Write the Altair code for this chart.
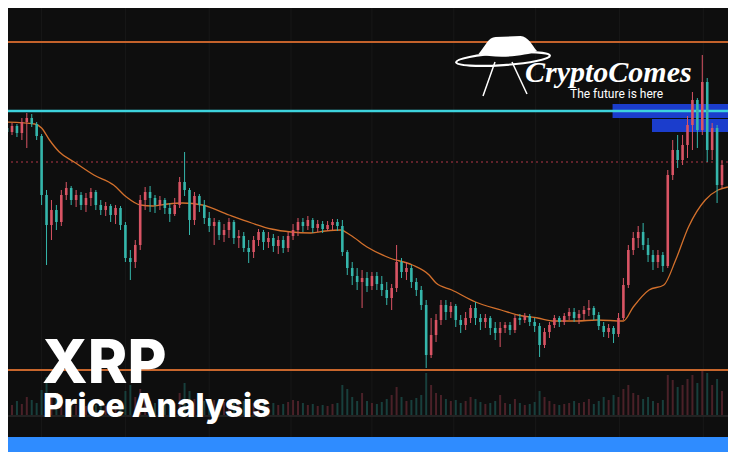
import altair as alt
import pandas as pd

# ---------------- data (XRP candles, price in USD) ----------------
opens = [0.372, 0.368, 0.374, 0.367, 0.378, 0.382, 0.376, 0.364, 0.305, 0.275,
         0.290, 0.278, 0.305, 0.312, 0.300, 0.305, 0.295, 0.302, 0.308, 0.295,
         0.290, 0.294, 0.285, 0.292, 0.275, 0.242, 0.238, 0.255, 0.300, 0.308,
         0.302, 0.295, 0.300, 0.292, 0.286, 0.295, 0.318, 0.310, 0.280, 0.304,
         0.295, 0.282, 0.274, 0.278, 0.265, 0.270, 0.278, 0.262, 0.264, 0.252,
         0.248, 0.260, 0.268, 0.258, 0.262, 0.254, 0.260, 0.252, 0.264, 0.270,
         0.278, 0.274, 0.280, 0.272, 0.276, 0.271, 0.275, 0.278, 0.274, 0.248,
         0.232, 0.224, 0.218, 0.222, 0.214, 0.224, 0.216, 0.210, 0.202, 0.212,
         0.238, 0.228, 0.232, 0.218, 0.210, 0.195, 0.145, 0.165, 0.180, 0.195,
         0.188, 0.194, 0.180, 0.175, 0.182, 0.192, 0.182, 0.178, 0.182, 0.172,
         0.167, 0.172, 0.175, 0.170, 0.182, 0.180, 0.184, 0.178, 0.174, 0.155,
         0.168, 0.175, 0.182, 0.178, 0.184, 0.188, 0.182, 0.186, 0.190, 0.192,
         0.185, 0.174, 0.168, 0.172, 0.166, 0.182, 0.215, 0.250, 0.262, 0.268,
         0.255, 0.245, 0.238, 0.245, 0.234, 0.325, 0.350, 0.340, 0.355, 0.375,
         0.400, 0.370, 0.418, 0.350, 0.372, 0.315]
highs = [0.378, 0.377, 0.376, 0.382, 0.387, 0.386, 0.378, 0.366, 0.310, 0.300,
         0.295, 0.310, 0.318, 0.314, 0.310, 0.308, 0.307, 0.312, 0.310, 0.300,
         0.298, 0.296, 0.295, 0.294, 0.278, 0.250, 0.260, 0.305, 0.313, 0.314,
         0.305, 0.304, 0.302, 0.297, 0.302, 0.323, 0.348, 0.312, 0.308, 0.306,
         0.300, 0.288, 0.282, 0.280, 0.276, 0.282, 0.280, 0.270, 0.268, 0.260,
         0.264, 0.271, 0.270, 0.268, 0.266, 0.264, 0.264, 0.268, 0.276, 0.282,
         0.282, 0.284, 0.282, 0.280, 0.279, 0.279, 0.281, 0.281, 0.280, 0.250,
         0.238, 0.232, 0.230, 0.228, 0.228, 0.228, 0.224, 0.218, 0.216, 0.255,
         0.242, 0.238, 0.235, 0.222, 0.214, 0.200, 0.182, 0.186, 0.200, 0.200,
         0.198, 0.196, 0.185, 0.188, 0.195, 0.198, 0.186, 0.186, 0.184, 0.178,
         0.178, 0.178, 0.178, 0.185, 0.186, 0.187, 0.186, 0.182, 0.177, 0.172,
         0.178, 0.185, 0.184, 0.187, 0.192, 0.192, 0.190, 0.194, 0.200, 0.194,
         0.188, 0.178, 0.176, 0.174, 0.187, 0.222, 0.255, 0.268, 0.274, 0.277,
         0.262, 0.250, 0.250, 0.248, 0.330, 0.360, 0.365, 0.365, 0.384, 0.408,
         0.402, 0.445, 0.422, 0.377, 0.375, 0.340]
lows = [0.364, 0.365, 0.363, 0.360, 0.352, 0.373, 0.360, 0.295, 0.235, 0.260,
        0.270, 0.274, 0.300, 0.295, 0.293, 0.290, 0.288, 0.294, 0.290, 0.285,
        0.284, 0.278, 0.276, 0.270, 0.238, 0.220, 0.232, 0.250, 0.290, 0.288,
        0.287, 0.290, 0.286, 0.278, 0.284, 0.292, 0.304, 0.265, 0.275, 0.288,
        0.276, 0.268, 0.255, 0.260, 0.258, 0.262, 0.256, 0.252, 0.248, 0.237,
        0.242, 0.254, 0.250, 0.252, 0.248, 0.246, 0.247, 0.248, 0.260, 0.264,
        0.268, 0.270, 0.267, 0.268, 0.267, 0.269, 0.270, 0.269, 0.244, 0.225,
        0.215, 0.210, 0.192, 0.208, 0.210, 0.210, 0.204, 0.195, 0.190, 0.208,
        0.222, 0.220, 0.212, 0.204, 0.190, 0.132, 0.142, 0.158, 0.175, 0.180,
        0.182, 0.173, 0.167, 0.170, 0.177, 0.175, 0.170, 0.172, 0.165, 0.160,
        0.153, 0.167, 0.165, 0.167, 0.175, 0.177, 0.174, 0.168, 0.143, 0.152,
        0.162, 0.172, 0.173, 0.175, 0.180, 0.178, 0.176, 0.180, 0.184, 0.180,
        0.170, 0.163, 0.162, 0.157, 0.163, 0.180, 0.212, 0.245, 0.252, 0.250,
        0.238, 0.230, 0.232, 0.228, 0.232, 0.320, 0.332, 0.335, 0.342, 0.350,
        0.352, 0.365, 0.338, 0.340, 0.297, 0.312]
closes = [0.368, 0.374, 0.367, 0.378, 0.382, 0.376, 0.364, 0.305, 0.275, 0.290,
          0.278, 0.305, 0.312, 0.300, 0.305, 0.295, 0.302, 0.308, 0.295, 0.290,
          0.294, 0.285, 0.292, 0.275, 0.242, 0.238, 0.255, 0.300, 0.308, 0.302,
          0.295, 0.300, 0.292, 0.286, 0.295, 0.318, 0.310, 0.280, 0.304, 0.295,
          0.282, 0.274, 0.278, 0.265, 0.270, 0.278, 0.262, 0.264, 0.252, 0.248,
          0.260, 0.268, 0.258, 0.262, 0.254, 0.260, 0.252, 0.264, 0.270, 0.278,
          0.274, 0.280, 0.272, 0.276, 0.271, 0.275, 0.278, 0.274, 0.248, 0.232,
          0.224, 0.218, 0.222, 0.214, 0.224, 0.216, 0.210, 0.202, 0.212, 0.238,
          0.228, 0.232, 0.218, 0.210, 0.195, 0.145, 0.165, 0.180, 0.195, 0.188,
          0.194, 0.180, 0.175, 0.182, 0.192, 0.182, 0.178, 0.182, 0.172, 0.167,
          0.172, 0.175, 0.170, 0.182, 0.180, 0.184, 0.178, 0.174, 0.155, 0.168,
          0.175, 0.182, 0.178, 0.184, 0.188, 0.182, 0.186, 0.190, 0.192, 0.185,
          0.174, 0.168, 0.172, 0.166, 0.182, 0.215, 0.250, 0.262, 0.268, 0.255,
          0.245, 0.238, 0.245, 0.234, 0.325, 0.350, 0.340, 0.355, 0.375, 0.400,
          0.370, 0.418, 0.350, 0.372, 0.315, 0.335]
volumes = [12, 10, 14, 11, 18, 15, 12, 25, 38, 22,
           16, 20, 14, 12, 10, 11, 9, 12, 10, 11,
           9, 13, 10, 15, 24, 30, 18, 26, 20, 14,
           12, 10, 11, 13, 12, 22, 32, 24, 16, 12,
           14, 12, 15, 11, 13, 10, 12, 11, 14, 18,
           12, 10, 11, 9, 12, 10, 11, 13, 15, 14,
           12, 10, 11, 9, 10, 9, 11, 12, 30, 26,
           18, 14, 22, 14, 12, 11, 13, 16, 20, 28,
           18, 14, 15, 17, 20, 42, 30, 22, 20, 16,
           14, 15, 12, 14, 18, 16, 13, 11, 12, 14,
           20, 12, 11, 16, 12, 10, 11, 13, 24, 18,
           14, 11, 10, 11, 12, 14, 12, 13, 16, 11,
           14, 18, 15, 20, 18, 26, 30, 22, 20, 16,
           18, 14, 12, 15, 40, 35, 28, 30, 36, 40,
           32, 45, 42, 30, 36, 24]

# moving average (sampled points along the orange curve)
ma_idx = [-0.4, 5.6, 7.0, 8.6, 10.6, 13.6, 17.6, 21.6, 24.2, 27.0, 29.6, 32.6,
          35.6, 39.6, 45.0, 49.6, 53.6, 57.6, 61.6, 64.6, 67.6, 69.6, 73.0,
          77.6, 82.2, 85.6, 87.0, 90.2, 95.0, 100.2, 103.6, 107.6, 111.0, 115.6,
          119.6, 125.0, 127.0, 130.2, 133.2, 135.6, 138.2, 141.6, 144.2, 146.2]
ma_val = [0.378, 0.376, 0.372, 0.360, 0.348, 0.338, 0.325, 0.315, 0.303, 0.295,
          0.294, 0.296, 0.297, 0.295, 0.285, 0.277, 0.271, 0.268, 0.267, 0.269,
          0.270, 0.265, 0.253, 0.242, 0.235, 0.225, 0.217, 0.210, 0.198, 0.190,
          0.185, 0.182, 0.179, 0.179, 0.180, 0.179, 0.193, 0.210, 0.215, 0.240,
          0.273, 0.300, 0.310, 0.313]

# horizontal levels
resistance_top = 0.458
resistance_cyan = 0.389
last_price = 0.338
support_bottom = 0.130

# supply zones (blue boxes)
zone_start = [122.8, 130.8]
zone_end = [150, 150]
zone_low = [0.382, 0.368]
zone_high = [0.396, 0.381]

grid_x = [7, 24, 41, 57.6, 74, 90.6, 107.2, 124.2, 141.2]

# ---------------- styles ----------------
BG = "#0e0e0e"
UP = "#d95464"
DOWN = "#35b6ab"
W, H = 720, 444

candles = pd.DataFrame({
    "candle": list(range(len(closes))),
    "open": opens, "high": highs, "low": lows, "close": closes,
    "volume": volumes,
})
candles["dir"] = ["up" if c >= o else "down" for o, c in zip(opens, closes)]

ma = pd.DataFrame({"candle": ma_idx, "ma": ma_val})
zones = pd.DataFrame({"s": zone_start, "e": zone_end, "lo": zone_low, "hi": zone_high})
grid = pd.DataFrame({"candle": grid_x})
one = pd.DataFrame({"a": [0]})

xs = alt.Scale(domain=[1.2, 145.2], nice=False, zero=False)
ys = alt.Scale(domain=[0.048, 0.492], nice=False, zero=False)
vs = alt.Scale(domain=[-37, 407], nice=False, zero=False)
cscale = alt.Scale(domain=["up", "down"], range=[UP, DOWN])
vcscale = alt.Scale(domain=["up", "down"], range=["#4a2128", "#183f3c"])

X = alt.X("candle:Q", scale=xs, axis=None)

grid_layer = alt.Chart(grid).mark_rule(color="#181818", strokeWidth=1).encode(x=X)

zone_layer = alt.Chart(zones).mark_rect(color="#1b3dcc", clip=True).encode(
    x=alt.X("s:Q", scale=xs, axis=None), x2="e:Q",
    y=alt.Y("lo:Q", scale=ys, axis=None), y2="hi:Q")

vol_layer = alt.Chart(candles).mark_bar(size=2, clip=True).encode(
    x=X, y=alt.Y("volume:Q", scale=vs, axis=None),
    color=alt.Color("dir:N", scale=vcscale, legend=None))

sep_layer = alt.Chart(one).mark_rule(color="#2a2a2a", strokeWidth=1.5).encode(
    x=alt.value(0), x2=alt.value(W), y=alt.value(408))


def level(price, color, width, dash=None):
    kw = dict(color=color, strokeWidth=width)
    if dash:
        kw["strokeDash"] = dash
    return alt.Chart(pd.DataFrame({"p": [price]})).mark_rule(**kw).encode(
        y=alt.Y("p:Q", scale=ys, axis=None))


lvl_top = level(resistance_top, "#c4622b", 2)
lvl_bot = level(support_bottom, "#c8662c", 2)
lvl_last = level(last_price, "#b23646", 1.2, [2, 3])
lvl_cyan = level(resistance_cyan, "#3dd3dd", 2.5)

ma_layer = alt.Chart(ma).mark_line(color="#d3702c", strokeWidth=1.3,
                                   interpolate="monotone", clip=True).encode(
    x=X, y=alt.Y("ma:Q", scale=ys, axis=None))

wick_layer = alt.Chart(candles).mark_rule(strokeWidth=1, clip=True).encode(
    x=X, y=alt.Y("low:Q", scale=ys, axis=None), y2="high:Q",
    color=alt.Color("dir:N", scale=cscale, legend=None))

body_layer = alt.Chart(candles).mark_bar(size=2.6, clip=True).encode(
    x=X, y=alt.Y("open:Q", scale=ys, axis=None), y2="close:Q",
    color=alt.Color("dir:N", scale=cscale, legend=None))

bottom_bar = alt.Chart(one).mark_rect(color="#2f8cff").encode(
    x=alt.value(0), x2=alt.value(W), y=alt.value(429), y2=alt.value(H))

title1 = alt.Chart(one).mark_text(text="XRP", font="Inter", fontSize=60, fontWeight=800,
                                  color="white", align="left", baseline="alphabetic").encode(
    x=alt.value(34), y=alt.value(375))
title2 = alt.Chart(one).mark_text(text="Price Analysis", font="Inter", fontSize=32,
                                  fontWeight=800, color="white", align="left",
                                  baseline="alphabetic").encode(
    x=alt.value(35), y=alt.value(409))

logo_text = alt.Chart(one).mark_text(text="CryptoComes", font="Liberation Serif",
                                     fontStyle="italic", fontWeight="bold", fontSize=30,
                                     color="white", align="left",
                                     baseline="alphabetic").encode(
    x=alt.value(517), y=alt.value(74))
logo_sub = alt.Chart(one).mark_text(text="The future is here", font="Roboto", fontSize=12,
                                    color="white", align="left", baseline="alphabetic").encode(
    x=alt.value(562), y=alt.value(90))

dome_path = ("M -0.95 0.27 C -0.72 0 -0.62 -0.3 -0.38 -0.3 L 0.45 -0.33 "
             "C 0.7 -0.33 0.85 0 1 0.17 C 0.6 0.36 -0.4 0.42 -0.95 0.27 Z")
brim_path = "M -1 0 A 1 0.13 0 1 1 1 0 A 1 0.13 0 1 1 -1 0 Z"
logo_dome = alt.Chart(one).mark_point(shape=dome_path, size=3600, filled=True,
                                      color="white", opacity=1).encode(
    x=alt.value(499), y=alt.value(38))
logo_brim = alt.Chart(one).mark_point(shape=brim_path, size=8836, filled=False,
                                      color="white", strokeWidth=2.2, opacity=1,
                                      angle=356).encode(
    x=alt.value(495), y=alt.value(51))
leg1 = alt.Chart(one).mark_rule(color="white", strokeWidth=1.5).encode(
    x=alt.value(487), y=alt.value(54), x2=alt.value(475), y2=alt.value(88))
leg2 = alt.Chart(one).mark_rule(color="white", strokeWidth=1.5).encode(
    x=alt.value(504), y=alt.value(54), x2=alt.value(519), y2=alt.value(86))

chart = alt.layer(
    grid_layer, zone_layer, vol_layer, sep_layer,
    lvl_top, lvl_bot, lvl_last, lvl_cyan,
    ma_layer, wick_layer, body_layer,
    bottom_bar, title1, title2,
    logo_dome, logo_brim, leg1, leg2, logo_text, logo_sub,
).resolve_scale(y="independent", color="independent").properties(
    width=W, height=H, background=BG, padding=0,
    autosize=alt.AutoSizeParams(type="none"),
).configure_view(strokeWidth=0)

chart.save("out.html", embed_options={"renderer": "svg", "actions": False})
